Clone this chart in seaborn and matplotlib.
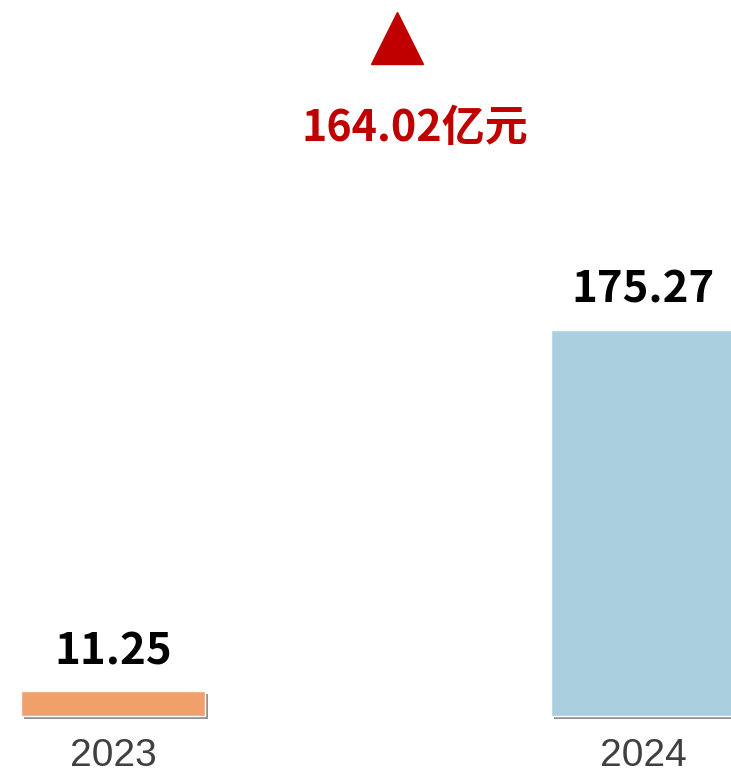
import matplotlib
matplotlib.use("Agg")
import matplotlib.pyplot as plt
import matplotlib.patheffects as pe
import seaborn as sns
import pandas as pd

years = ["2023", "2024"]
values = [11.25, 175.27]
bar_colors = ["#F0A06A", "#AAD0DF"]
increase_label = "164.02亿元"

sns.set_theme(style="white")
plt.rcParams['font.family'] = ['Noto Sans CJK SC', 'DejaVu Sans']

df = pd.DataFrame({"year": years, "value": values})

fig = plt.figure(figsize=(7.31, 7.77), dpi=100)
ax = fig.add_axes([0, 61 / 777, 1, 716 / 777])

sns.barplot(data=df, x="year", y="value", hue="year", palette=bar_colors,
            width=0.347, legend=False, ax=ax, saturation=1)

for p in ax.patches:
    p.set_clip_on(False)
    p.set_path_effects([pe.SimplePatchShadow(offset=(2.2, -2.2), shadow_rgbFace="#7f7f7f", alpha=0.85),
                        pe.Normal()])

for c in ax.containers:
    ax.bar_label(c, fmt="%.2f", padding=13, fontsize=31.5, fontweight="bold", color="black")

ax.set_xlim(-0.2132, 1.166)
ax.set_ylim(0, 325.1)
ax.set_xlabel("")
ax.set_ylabel("")
ax.set_yticks([])
for s in ax.spines.values():
    s.set_visible(False)

ax.tick_params(axis="x", length=0, pad=16)
for lab in ax.get_xticklabels():
    lab.set_fontfamily("Liberation Sans")
    lab.set_fontsize(28)
    lab.set_color("#404040")

# increase annotation
ax.plot([0.536], [308], marker="^", markersize=38, color="#C00000", linestyle="none")
ax.text(0.57, 267, increase_label, ha="center", va="center", fontsize=31,
        fontweight="bold", color="#C00000")

fig.savefig("out.png", dpi=100)
